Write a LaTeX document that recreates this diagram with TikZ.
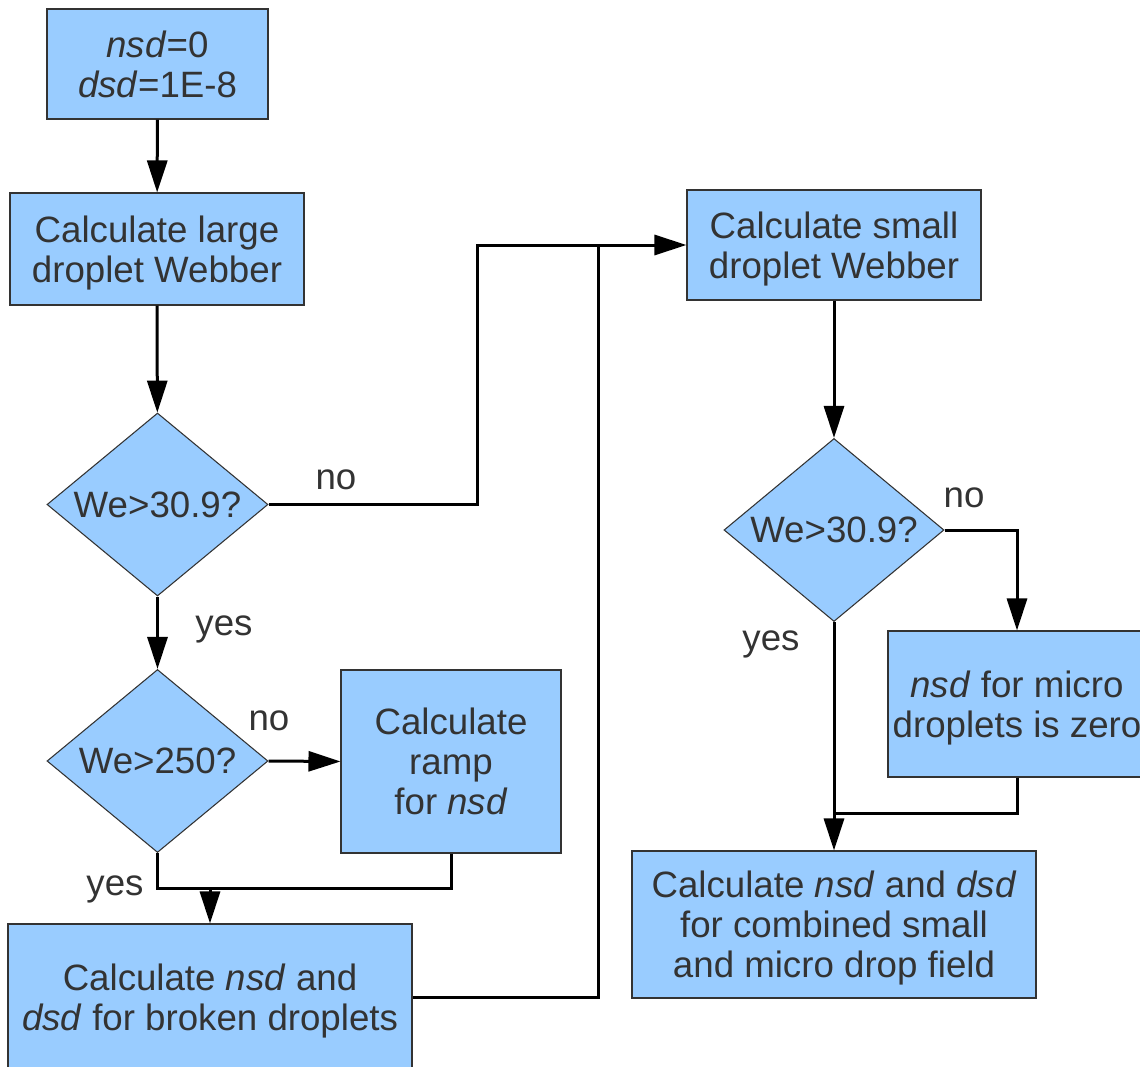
\documentclass[tikz,border=0pt]{standalone}
\usepackage{fontspec}
\setmainfont{Liberation Sans}
\usetikzlibrary{shapes.geometric,arrows.meta}
\definecolor{boxfill}{HTML}{99CCFF}
\definecolor{boxedge}{HTML}{333333}
\definecolor{ink}{HTML}{333333}
\begin{document}
\begin{tikzpicture}[x=0.75pt,y=-0.75pt,
  sz/.style 2 args={minimum width=#1*0.75pt,minimum height=#2*0.75pt},
  base/.style={draw=boxedge,fill=boxfill,line width=0.8pt,inner sep=0pt,
    text=ink,font=\fontsize{27.5}{30}\selectfont,align=center},
  proc/.style={base,rectangle,text depth=0pt},
  test/.style={base,diamond,shape aspect=1.2},
  flow/.style={line width=2.25pt,-{Triangle[width=15pt,length=24pt]}},
  wire/.style={line width=2.25pt},
  tag/.style={text=ink,font=\fontsize{27.5}{30}\selectfont,anchor=base,inner sep=0pt}]

\useasboundingbox (0,0) rectangle (1140,1067);
\clip (0,0) rectangle (1140,1067);

% left column: large droplets
\node[proc,sz={221}{110}] (init) at (157.5,64) {\textit{nsd}=0\\\textit{dsd}=1E-8};
\node[proc,sz={294}{112}] (large) at (157,249) {Calculate large\\droplet Webber};
\node[test,sz={221}{183}] (d1) at (157.5,504.5) {We>30.9?};
\node[test,sz={221}{183}] (d2) at (157.5,761) {We>250?};
\node[proc,sz={220}{183}] (ramp) at (451,761.5) {Calculate\\ramp\\for \textit{nsd}};
\node[proc,sz={404}{147}] (broken) at (210,997.5) {Calculate \textit{nsd} and\\\textit{dsd} for broken droplets};

% right column: small and micro droplets
\node[proc,sz={294}{110}] (small) at (834,245) {Calculate small\\droplet Webber};
\node[test,sz={220}{183}] (d3) at (834,530) {We>30.9?};
\node[proc,sz={258}{146}] (micro) at (1017,704) {\textit{nsd} for micro\\droplets is zero};
\node[proc,sz={404}{147}] (comb) at (834,924.5) {Calculate \textit{nsd} and \textit{dsd}\\for combined small\\and micro drop field};

% junction points
\coordinate (j1) at (210,888);
\coordinate (k) at (477,245);
\coordinate (m) at (598,245);
\coordinate (j2) at (834,813);

% connectors
\draw[flow] (init) -- (large);
\draw[flow] (large) -- (d1);
\draw[flow] (d1.south) -- (d2.north);
\draw[flow] (d2.east) -- (ramp.west);
\draw[wire] (d2.south) |- (ramp.south |- j1) -- (ramp.south);
\draw[flow] (j1) -- (broken.north);
\draw[flow] (d1.east) -| (k) -- (small.west);
\draw[wire] (broken.east) -| (m);
\draw[flow] (small) -- (d3);
\draw[flow] (d3.east) -| (micro.north);
\draw[flow] (d3.south) -- (comb.north);
\draw[wire] (micro.south) |- (j2);

% branch labels
\node[tag] (no1) at (336,489) {no};
\node[tag] (yes1) at (224,635) {yes};
\node[tag] (no2) at (269,730) {no};
\node[tag] (yes2) at (115,895) {yes};
\node[tag] (no3) at (964,507) {no};
\node[tag] (yes3) at (771,650) {yes};
\end{tikzpicture}
\end{document}
